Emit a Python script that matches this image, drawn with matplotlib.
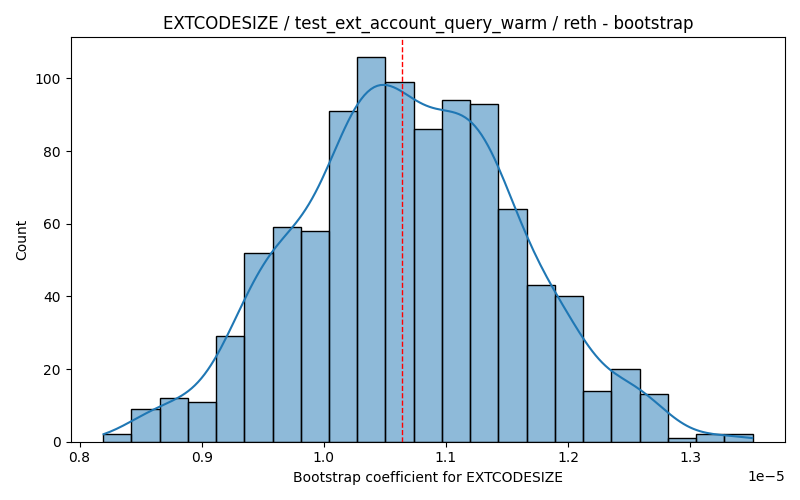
import numpy as np
import matplotlib
matplotlib.use("Agg")
import matplotlib.pyplot as plt
import seaborn as sns

# bootstrap histogram (units of 1e-5)
bin_start = 0.8193e-5
bin_end = 1.351e-5
counts = [2, 9, 12, 11, 29, 52, 59, 58, 91, 106, 99, 86,
          94, 93, 64, 43, 40, 14, 20, 13, 1, 2, 2]
mean_line = 1.064e-5

edges = np.linspace(bin_start, bin_end, len(counts) + 1)
centers = (edges[:-1] + edges[1:]) / 2
samples = np.repeat(centers, counts)

fig, ax = plt.subplots(figsize=(8, 5), dpi=100)
sns.histplot(samples, bins=edges, kde=True, kde_kws={"cut": 0.5}, ax=ax)
ax.axvline(mean_line, color="red", linestyle="--", linewidth=1)
ax.set_title("EXTCODESIZE / test_ext_account_query_warm / reth - bootstrap")
ax.set_xlabel("Bootstrap coefficient for EXTCODESIZE")
ax.set_ylabel("Count")
fig.tight_layout()
fig.savefig("out.png")
